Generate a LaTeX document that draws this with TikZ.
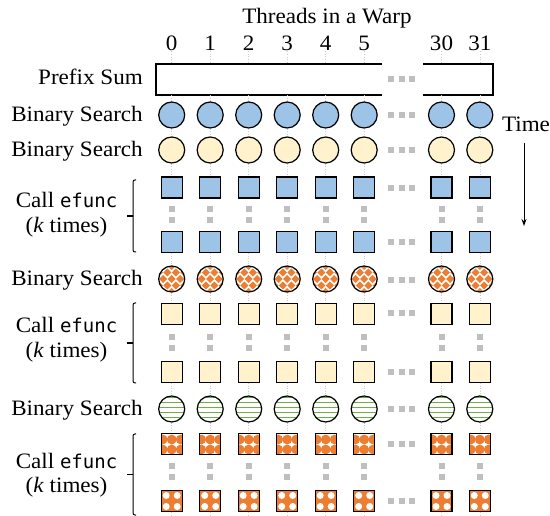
\documentclass[tikz,border=0pt]{standalone}
\usepackage{fontspec}
\setmainfont[FakeStretch=1.05]{Liberation Serif}
\newfontfamily\codefont{DejaVu Sans Mono}
\usetikzlibrary{arrows.meta}
\definecolor{cblue}{HTML}{9DC3E6}
\definecolor{cyel}{HTML}{FFF2CC}
\definecolor{corange}{HTML}{ED7D31}
\definecolor{cgreen}{HTML}{70AD47}
\definecolor{cgray}{HTML}{BFBFBF}
\begin{document}
\begin{tikzpicture}[x=1pt,y=-1pt,
  txt/.style={font=\fontsize{22}{24}\selectfont, inner sep=0pt},
  circ/.style={circle, draw=black, line width=1.2pt, minimum size=26pt, inner sep=0pt},
  sqr/.style={rectangle, draw=black, line width=1.2pt, minimum size=21pt, inner sep=0pt},
  bluec/.style={circ, fill=cblue},
  yelc/.style={circ, fill=cyel},
  blues/.style={sqr, fill=cblue},
  yels/.style={sqr, fill=cyel},
  diamc/.style={circ, fill=white, path picture={
     \foreach \yy in {-13,0,13} \foreach \xx in {-8.5,0,8.5}
       \fill[corange] ([shift={(\xx,\yy)}]path picture bounding box.center) ++(0,-4) -- ++(4,4) -- ++(-4,4) -- ++(-4,-4) -- cycle;
     \foreach \yy in {-6.5,6.5} \foreach \xx in {-12.75,-4.25,4.25,12.75}
       \fill[corange] ([shift={(\xx,\yy)}]path picture bounding box.center) ++(0,-4) -- ++(4,4) -- ++(-4,4) -- ++(-4,-4) -- cycle;
  }},
  stripc/.style={circ, fill=white, path picture={
     \foreach \yy in {-11.5,-6.5,-1.5,3.5,8.5}
       \draw[cgreen, line width=1.3pt] ([shift={(-16,\yy)}]path picture bounding box.center) -- ++(32,0);
  }},
  dots/.style={sqr, fill=white, path picture={
     \foreach \xx in {-9,0,9} \foreach \yy in {-4.5,5.5}
       \fill[corange] ([shift={(\xx,\yy)}]path picture bounding box.center) circle (4.9);
  }},
  holes/.style={sqr, fill=corange, path picture={
     \foreach \xx in {-5.5,5.5} \foreach \yy in {-5.5,5.5}
       \fill[white] ([shift={(\xx,\yy)}]path picture bounding box.center) circle (3.5);
  }},
  vdot/.style={cgray!80, line width=0.6pt, dotted},
  sepbox/.style={fill=cgray},
  brk/.style={line width=1pt, rounded corners=2pt},
]
\useasboundingbox (0,0) rectangle (550,516);

% title and column numbers
\node[txt, anchor=base] (title) at (327,24) {Threads in a Warp};
\foreach \x/\t [count=\i] in {171.7/0,210.2/1,248.7/2,287.2/3,325.7/4,364.2/5,441.5/30,479.8/31}{
  \node[txt, anchor=base] (n\i) at (\x,51) {\t};
  \coordinate (bt\i) at (\x,64);
  \coordinate (bb\i) at (\x,95);
  \coordinate (bot\i) at (\x,516);
}

% prefix sum bar
\fill[white] (156,64) rectangle (382,95);
\fill[white] (423,64) rectangle (493,95);
\draw[line width=1.1pt] (382,64) -- (156,64) -- (156,95) -- (382,95);
\draw[line width=1.1pt] (423,64) -- (493,64) -- (493,95) -- (423,95);

% rows of shapes
\foreach \x [count=\i] in {171.7,210.2,248.7,287.2,325.7,364.2,441.5,479.8}{
  \node[bluec] (a\i) at (\x,115) {};
  \node[yelc]  (b\i) at (\x,150) {};
  \node[blues] (c\i) at (\x,187.5) {};
  \node[blues] (d\i) at (\x,242) {};
  \node[diamc] (e\i) at (\x,279) {};
  \node[yels]  (f\i) at (\x,314) {};
  \node[yels]  (g\i) at (\x,372) {};
  \node[stripc] (h\i) at (\x,409) {};
  \node[dots]  (k\i) at (\x,444) {};
  \node[holes] (m\i) at (\x,501) {};
  % vertical separators
  \foreach \yy in {209,220,337,348,466,477}
    \fill[sepbox] (\x-3,\yy-2.8) rectangle (\x+3,\yy+2.8);
  % dotted guide connectors
  \draw[vdot] (n\i.south) -- (bt\i);
  \draw[vdot] (bb\i) -- (a\i.north);
  \draw[vdot] (a\i.south) -- (b\i.north);
  \draw[vdot] (b\i.south) -- (c\i.north);
  \draw[vdot] (d\i.south) -- (e\i.north);
  \draw[vdot] (e\i.south) -- (f\i.north);
  \draw[vdot] (g\i.south) -- (h\i.north);
  \draw[vdot] (h\i.south) -- (k\i.north);
  \draw[vdot] (m\i.south) -- (bot\i);
}

% horizontal ellipsis dots
\foreach \yy in {79,115,150,188,242,280,313,372,409,444,501}
  \foreach \x in {391,401.5,412}
    \fill[sepbox] (\x-3,\yy-3) rectangle (\x+3,\yy+3);

% row labels
\node[txt, anchor=base east] (l0) at (143,85) {Prefix Sum};
\node[txt, anchor=base east] (l1) at (143,122) {Binary Search};
\node[txt, anchor=base east] (l2) at (143,157) {Binary Search};
\node[txt, anchor=base east] (l3) at (143,286) {Binary Search};
\node[txt, anchor=base east] (l4) at (143,416) {Binary Search};

\node[txt, anchor=base] (cA) at (66.5,208) {Call {\codefont\fontsize{19}{22}\selectfont efunc}};
\node[txt, anchor=base] (kA) at (66.5,233) {(\textit{k} times)};
\node[txt, anchor=base] (cB) at (66.5,333) {Call {\codefont\fontsize{19}{22}\selectfont efunc}};
\node[txt, anchor=base] (kB) at (66.5,358) {(\textit{k} times)};
\node[txt, anchor=base] (cC) at (66.5,468) {Call {\codefont\fontsize{19}{22}\selectfont efunc}};
\node[txt, anchor=base] (kC) at (66.5,493) {(\textit{k} times)};

% brackets
\foreach \ya/\yb in {180/252, 303/383, 434/515}{
  \draw[brk] (136,\ya) -- (133,\ya) -- (133,\yb) -- (136,\yb);
  \draw[line width=1.6pt] (127,{(\ya+\yb)/2}) -- (133,{(\ya+\yb)/2});
}

% time arrow
\node[txt, anchor=base] (time) at (526,131.7) {Time};
\coordinate (ts) at (524,143);
\coordinate (te) at (524,226);
\draw[line width=1pt, -{Stealth[length=7pt,width=5pt]}] (ts) -- (te);
\end{tikzpicture}
\end{document}
